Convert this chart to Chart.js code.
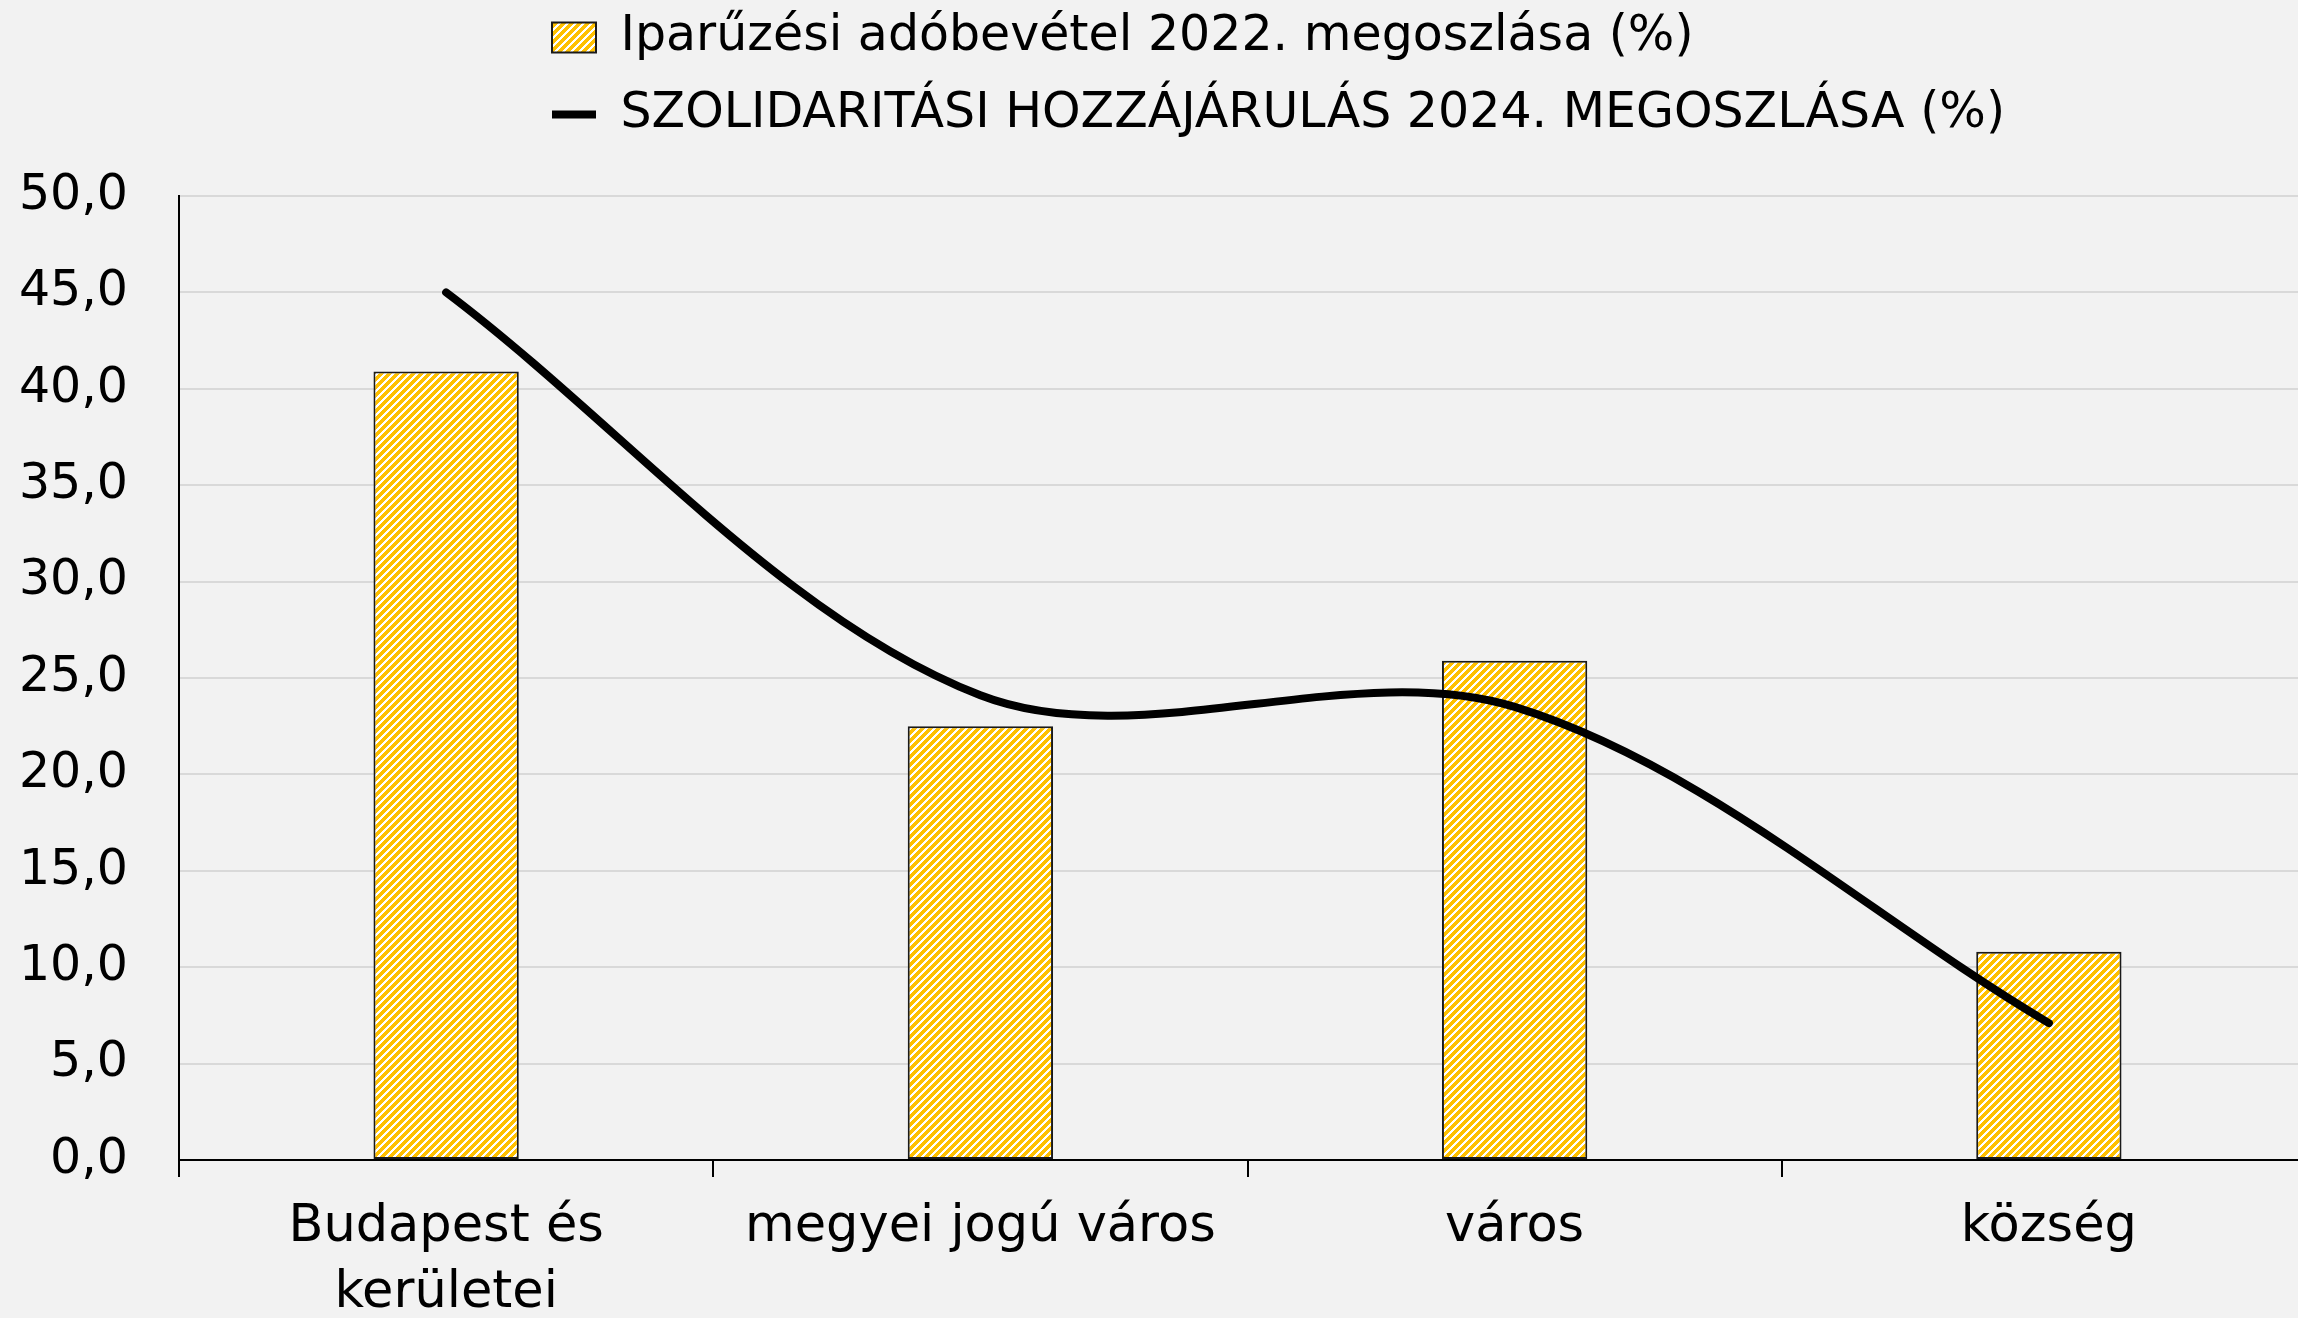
<!DOCTYPE html>
<html lang="hu">
<head>
<meta charset="utf-8">
<title>Iparűzési adó és szolidaritási hozzájárulás megoszlása</title>
<script src="https://cdn.jsdelivr.net/npm/chart.js@4/dist/chart.umd.min.js"></script>
<style>
  html, body {
    margin: 0;
    padding: 0;
    background: #f2f2f2;
    overflow: hidden;
  }
  #chartBox {
    position: relative;
    width: 2316px;
    height: 1318px;
  }
</style>
</head>
<body>
<div id="chartBox"><canvas id="megoszlasChart"></canvas></div>
<script>
const categories = [["Budapest és", "kerületei"], "megyei jogú város", "város", "község"];
const iparuzesiAdo2022 = [40.9, 22.5, 25.9, 10.8];
const szolidaritasi2024 = [45.0, 24.1, 23.5, 7.1];
const yTicks = { min: 0, max: 50, step: 5 };

const seriesNames = [
  "Iparűzési adóbevétel 2022. megoszlása (%)",
  "SZOLIDARITÁSI HOZZÁJÁRULÁS 2024. MEGOSZLÁSA (%)",
];

// yellow / white upward diagonal hatch for the bars
const makeHatch = () => {
  const tile = document.createElement("canvas");
  tile.width = 8;
  tile.height = 8;
  const tctx = tile.getContext("2d");
  tctx.fillStyle = "#ffffff";
  tctx.fillRect(0, 0, 8, 8);
  tctx.fillStyle = "#ffc000";
  for (let x = 0; x < 8; x++) {
    for (let y = 0; y < 8; y++) {
      if ((x + y) % 8 < 5) tctx.fillRect(x, y, 1, 1);
    }
  }
  return tctx.createPattern(tile, "repeat");
};

// the legend rows sit left-aligned above the plot, not centred
const legendPlace = {
  id: "legendPlace",
  afterLayout(chart) {
    const lg = chart.legend;
    const pad = lg.options.labels.padding;
    lg.left = 552 - pad;
    lg.top = 13 - pad;
  },
};

const fontFamily = "'Century Gothic', 'DejaVu Sans', sans-serif";
Chart.defaults.font.family = fontFamily;
Chart.defaults.color = "#000000";

const ctx = document.getElementById("megoszlasChart").getContext("2d");
const hatch = makeHatch();

new Chart(ctx, {
  data: {
    labels: categories,
    datasets: [
      {
        type: "bar",
        label: seriesNames[0],
        data: iparuzesiAdo2022,
        backgroundColor: hatch,
        borderColor: "#1a1a1a",
        borderWidth: 2,
        borderSkipped: false,
        categoryPercentage: 1,
        barPercentage: 0.272,
        pointStyle: "rect",
        order: 1,
      },
      {
        type: "line",
        label: seriesNames[1],
        data: szolidaritasi2024,
        borderColor: "#000000",
        backgroundColor: "#000000",
        borderWidth: 8,
        borderCapStyle: "round",
        tension: 0.33,
        pointRadius: 0,
        pointStyle: "line",
        fill: false,
        order: 0,
      },
    ],
  },
  options: {
    responsive: true,
    maintainAspectRatio: false,
    animation: false,
    layout: { padding: { top: 32, left: 0, right: 0, bottom: 0 } },
    plugins: {
      tooltip: { enabled: false },
      legend: {
        position: "top",
        align: "start",
        labels: {
          font: { size: 49 },
          color: "#000000",
          usePointStyle: true,
          pointStyleWidth: 44,
          boxHeight: 30,
          padding: 28,
          sort: (a, b) => a.datasetIndex - b.datasetIndex,
        },
      },
    },
    scales: {
      x: {
        offset: true,
        grid: {
          offset: true,
          drawOnChartArea: false,
          drawTicks: true,
          tickLength: 17,
          color: "#000000",
          lineWidth: 2,
        },
        border: { display: true, color: "#000000", width: 2 },
        ticks: {
          font: { size: 51, lineHeight: 1.29 },
          color: "#000000",
          padding: 18,
          maxRotation: 0,
          autoSkip: false,
        },
        afterFit: (scale) => {
          scale.height = 158;
        },
      },
      y: {
        min: yTicks.min,
        max: yTicks.max,
        grid: {
          color: "#d9d9d9",
          lineWidth: 2,
          drawTicks: false,
        },
        border: { display: true, color: "#000000", width: 2 },
        ticks: {
          stepSize: yTicks.step,
          font: { size: 49 },
          color: "#000000",
          padding: 51,
          callback: (value) => value.toFixed(1).replace(".", ","),
        },
        afterFit: (scale) => {
          scale.width = 179;
        },
      },
    },
  },
  plugins: [legendPlace],
});
</script>
</body>
</html>
